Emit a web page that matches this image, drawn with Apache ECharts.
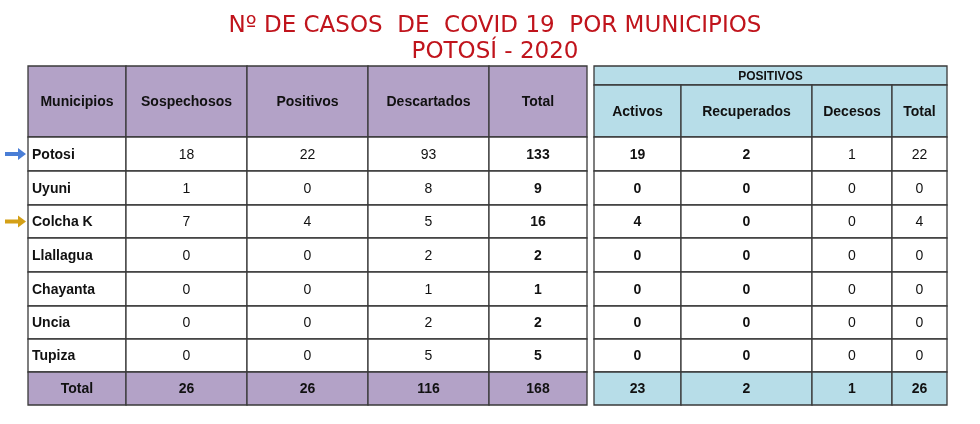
<!DOCTYPE html>
<html><head><meta charset="utf-8">
<script src="https://cdn.jsdelivr.net/npm/echarts@6/dist/echarts.min.js"></script>
<style>html,body{margin:0;background:#fff}#chart{width:980px;height:424px}</style>
</head><body><div id="chart"></div>
<script>
// datos de la tabla
const municipios = ['Potosi', 'Uyuni', 'Colcha K', 'Llallagua', 'Chayanta', 'Uncia', 'Tupiza']
const sospechosos = [18, 1, 7, 0, 0, 0, 0]
const positivos = [22, 0, 4, 0, 0, 0, 0]
const descartados = [93, 8, 5, 2, 1, 2, 5]
const totalCasos = [133, 9, 16, 2, 1, 2, 5]
const activos = [19, 0, 4, 0, 0, 0, 0]
const recuperados = [2, 0, 0, 0, 0, 0, 0]
const decesos = [1, 0, 0, 0, 0, 0, 0]
const totalPositivos = [22, 0, 4, 0, 0, 0, 0]
const totales = [26, 26, 116, 168]
const totalesPositivos = [23, 2, 1, 26]
const headLeft = ['Municipios', 'Sospechosos', 'Positivos', 'Descartados', 'Total']
const headRight = ['Activos', 'Recuperados', 'Decesos', 'Total']
const marcados = [{ row: 0, color: '#4a7ed6' }, { row: 2, color: '#d4a017' }]

// bordes de columnas y filas (unidades del eje)
const colL = [28, 126, 247, 368, 489, 587]
const colR = [594, 681, 812, 892, 947]
const rowY = [137, 171, 205, 238, 272, 306, 339, 372, 405]
const PURPLE = '#b3a2c7', BLUE = '#b7dde8'

const cells = [] // [x0, x1, y0, y1, text, fill, bold, align]
headLeft.forEach((h, i) => cells.push([colL[i], colL[i + 1], 66, 137, h, PURPLE, 1, 'center']))
cells.push([colR[0], colR[4], 66, 85, 'POSITIVOS', BLUE, 1, 'center'])
headRight.forEach((h, i) => cells.push([colR[i], colR[i + 1], 85, 137, h, BLUE, 1, 'center']))
municipios.forEach((m, r) => {
  const y0 = rowY[r], y1 = rowY[r + 1]
  const left = [m, sospechosos[r], positivos[r], descartados[r], totalCasos[r]]
  left.forEach((v, i) => cells.push([colL[i], colL[i + 1], y0, y1, String(v), '#fff', (i === 0 || i === 4) ? 1 : 0, i === 0 ? 'left' : 'center']))
  const right = [activos[r], recuperados[r], decesos[r], totalPositivos[r]]
  right.forEach((v, i) => cells.push([colR[i], colR[i + 1], y0, y1, String(v), '#fff', i < 2 ? 1 : 0, 'center']))
})
const yT0 = rowY[7], yT1 = rowY[8]
;['Total'].concat(totales).forEach((v, i) => cells.push([colL[i], colL[i + 1], yT0, yT1, String(v), PURPLE, 1, 'center']))
totalesPositivos.forEach((v, i) => cells.push([colR[i], colR[i + 1], yT0, yT1, String(v), BLUE, 1, 'center']))

const chart = echarts.init(document.getElementById('chart'))
chart.setOption({
  animation: false,
  title: {
    text: 'Nº DE CASOS  DE  COVID 19  POR MUNICIPIOS\nPOTOSÍ - 2020',
    left: 490, top: 8,
    textAlign: 'center',
    textStyle: { color: '#c0141c', fontSize: 23, fontWeight: 'normal', fontFamily: 'DejaVu Sans', lineHeight: 26, align: 'center' }
  },
  grid: { left: 0, top: 0, width: 980, height: 424 },
  xAxis: { type: 'value', min: 0, max: 980, show: false },
  yAxis: { type: 'value', min: 0, max: 424, inverse: true, show: false },
  series: [
    {
      type: 'custom',
      data: cells,
      renderItem: (params, api) => {
        const p0 = api.coord([api.value(0), api.value(2)])
        const p1 = api.coord([api.value(1), api.value(3)])
        const c = cells[params.dataIndex]
        return {
          type: 'group',
          children: [
            { type: 'rect', shape: { x: p0[0], y: p0[1], width: p1[0] - p0[0], height: p1[1] - p0[1] },
              style: { fill: c[5], stroke: '#3a3a3a', lineWidth: 1.3 } },
            { type: 'text', x: c[7] === 'left' ? p0[0] + 4 : (p0[0] + p1[0]) / 2, y: (p0[1] + p1[1]) / 2 + 1,
              style: { text: c[4], align: c[7], verticalAlign: 'middle', fill: '#111',
                font: (c[6] ? 'bold ' : '') + (c[4] === 'POSITIVOS' ? 12 : 14) + 'px "Liberation Sans", Arial' } }
          ]
        }
      }
    },
    {
      type: 'custom',
      data: marcados.map(m => [m.row]),
      renderItem: (params, api) => {
        const r = api.value(0)
        const p = api.coord([5, (rowY[r] + rowY[r + 1]) / 2])
        const e = api.coord([26, 0])
        const x = p[0], y = p[1], xe = e[0]
        return {
          type: 'polygon',
          shape: { points: [[x, y - 2], [xe - 8, y - 2], [xe - 8, y - 6], [xe, y], [xe - 8, y + 6], [xe - 8, y + 2], [x, y + 2]] },
          style: { fill: marcados[params.dataIndex].color }
        }
      }
    }
  ]
})
</script></body></html>
